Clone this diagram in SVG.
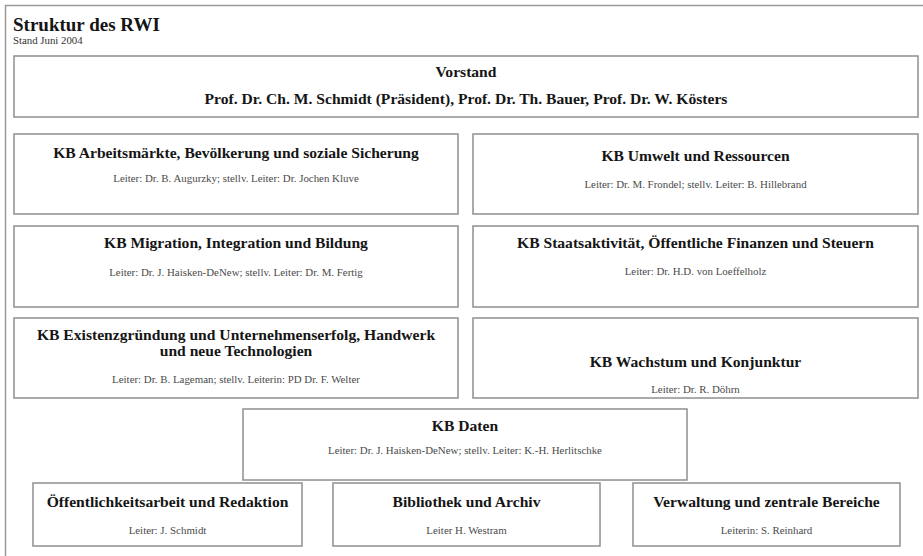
<svg xmlns="http://www.w3.org/2000/svg" width="923" height="556" viewBox="0 0 923 556">
<style>
  .frame{fill:none;stroke:#9a9a9a;stroke-width:1.5}
  .box{fill:#fff;stroke:#8f8f8f;stroke-width:1.5}
  text{font-family:"Liberation Serif","Times New Roman",serif;}
  .h{font-weight:bold;fill:#151515;font-size:15.6px;text-anchor:middle}
  .s{fill:#4a4a4a;font-size:10.9px;text-anchor:middle}
</style>
<rect x="0" y="0" width="923" height="556" fill="#fff"/>
<path class="frame" d="M5.5,556 V5.5 H923"/>
<text x="13" y="31" style="font-weight:bold;font-size:19px;fill:#151515">Struktur des RWI</text>
<text x="13" y="44" style="font-size:10.8px;fill:#333">Stand Juni 2004</text>

<g id="vorstand">
  <rect class="box" x="14" y="56" width="904" height="61"/>
  <text class="h" x="466" y="77">Vorstand</text>
  <text class="h" x="466" y="104">Prof. Dr. Ch. M. Schmidt (Präsident), Prof. Dr. Th. Bauer, Prof. Dr. W. Kösters</text>
</g>

<g id="kb-arbeit">
  <rect class="box" x="14" y="134" width="444" height="80"/>
  <text class="h" x="236" y="158">KB Arbeitsmärkte, Bevölkerung und soziale Sicherung</text>
  <text class="s" x="236" y="182">Leiter: Dr. B. Augurzky; stellv. Leiter: Dr. Jochen Kluve</text>
</g>

<g id="kb-umwelt">
  <rect class="box" x="473" y="134" width="445" height="80"/>
  <text class="h" x="695.5" y="161">KB Umwelt und Ressourcen</text>
  <text class="s" x="695.5" y="188">Leiter: Dr. M. Frondel; stellv. Leiter: B. Hillebrand</text>
</g>

<g id="kb-migration">
  <rect class="box" x="14" y="226" width="444" height="81"/>
  <text class="h" x="236" y="248">KB Migration, Integration und Bildung</text>
  <text class="s" x="236" y="276">Leiter: Dr. J. Haisken-DeNew; stellv. Leiter: Dr. M. Fertig</text>
</g>

<g id="kb-staat">
  <rect class="box" x="473" y="226" width="445" height="81"/>
  <text class="h" x="695.5" y="248">KB Staatsaktivität, Öffentliche Finanzen und Steuern</text>
  <text class="s" x="695.5" y="275">Leiter: Dr. H.D. von Loeffelholz</text>
</g>

<g id="kb-existenz">
  <rect class="box" x="14" y="318" width="444" height="80"/>
  <text class="h" x="236" y="340">KB Existenzgründung und Unternehmenserfolg, Handwerk</text>
  <text class="h" x="236" y="356">und neue Technologien</text>
  <text class="s" x="236" y="383">Leiter: Dr. B. Lageman; stellv. Leiterin: PD Dr. F. Welter</text>
</g>

<g id="kb-wachstum">
  <rect class="box" x="473" y="318" width="445" height="80"/>
  <text class="h" x="695.5" y="367">KB Wachstum und Konjunktur</text>
  <text class="s" x="695.5" y="393">Leiter: Dr. R. Döhrn</text>
</g>

<g id="kb-daten">
  <rect class="box" x="243" y="409" width="444" height="71"/>
  <text class="h" x="465" y="431">KB Daten</text>
  <text class="s" x="465" y="454">Leiter: Dr. J. Haisken-DeNew; stellv. Leiter: K.-H. Herlitschke</text>
</g>

<g id="oeffentlichkeit">
  <rect class="box" x="33" y="483" width="269" height="63"/>
  <text class="h" x="167.5" y="507">Öffentlichkeitsarbeit und Redaktion</text>
  <text class="s" x="167.5" y="534">Leiter: J. Schmidt</text>
</g>

<g id="bibliothek">
  <rect class="box" x="333" y="483" width="267" height="63"/>
  <text class="h" x="466.5" y="507">Bibliothek und Archiv</text>
  <text class="s" x="466.5" y="534">Leiter H. Westram</text>
</g>

<g id="verwaltung">
  <rect class="box" x="633" y="483" width="267" height="63"/>
  <text class="h" x="766.5" y="507">Verwaltung und zentrale Bereiche</text>
  <text class="s" x="766.5" y="534">Leiterin: S. Reinhard</text>
</g>

<g id="connectors"></g>
</svg>
